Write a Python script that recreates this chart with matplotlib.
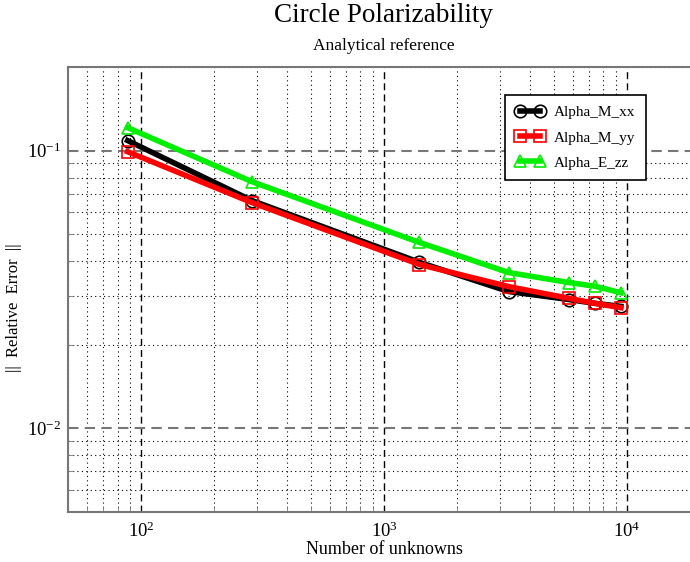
import numpy as np
import matplotlib
matplotlib.use("Agg")
import matplotlib.pyplot as plt
from matplotlib.ticker import LogLocator, NullFormatter

plt.rcParams['font.family'] = ['Liberation Serif', 'DejaVu Serif']
plt.rcParams['mathtext.fontset'] = 'stix'

# convergence data
unknowns = [88, 286, 1400, 3260, 5770, 7380, 9440]
alpha_m_xx = [0.1087, 0.0661, 0.0396, 0.0311, 0.0291, 0.0282, 0.0275]
alpha_m_yy = [0.0991, 0.0650, 0.0389, 0.0324, 0.0294, 0.0282, 0.0272]
alpha_e_zz = [0.121, 0.0773, 0.0467, 0.0364, 0.0335, 0.0325, 0.0308]

series = [
    ("Alpha_M_xx", alpha_m_xx, "black", "o"),
    ("Alpha_M_yy", alpha_m_yy, "red", "s"),
    ("Alpha_E_zz", alpha_e_zz, "#00ee00", "^"),
]

fig = plt.figure(figsize=(6.9, 5.62), dpi=100)
ax = fig.add_axes([68 / 690, 1 - 512 / 562, 632 / 690, 445 / 562])

for name, vals, col, mk in series:
    ax.plot(unknowns, vals, color=col, lw=4, marker=mk, markersize=9,
            markerfacecolor='none', markeredgecolor=col, markeredgewidth=1.2,
            label=name)

ax.set_xscale('log')
ax.set_yscale('log')
ax.set_xlim(50, 20000)
ax.set_ylim(0.005, 0.2)

ax.xaxis.set_minor_locator(LogLocator(base=10, subs=np.arange(2, 10)))
ax.yaxis.set_minor_locator(LogLocator(base=10, subs=np.arange(2, 10)))
ax.xaxis.set_minor_formatter(NullFormatter())
ax.yaxis.set_minor_formatter(NullFormatter())

# major grid: dashed, minor grid: dotted
ax.grid(True, axis='x', which='major', color='black', ls=(0, (5, 3)), lw=1)
ax.grid(True, axis='y', which='major', color='#777777', ls=(0, (5, 3)), lw=1.5)
ax.grid(True, which='minor', color='black', ls=(0, (1, 3)), lw=0.8)
ax.set_axisbelow(True)

for side in ['left', 'bottom', 'top']:
    ax.spines[side].set_color('#777777')
    ax.spines[side].set_linewidth(1.5)
ax.spines['right'].set_visible(False)
ax.tick_params(which='both', direction='in', color='#777777', labelsize=13.5)
ax.tick_params(which='major', length=0)
ax.tick_params(which='minor', length=4)
ax.tick_params(axis='x', which='major', pad=7)
ax.tick_params(axis='y', which='major', pad=5)

ax.set_xlabel("Number of unknowns", fontsize=13)
ax.xaxis.set_label_coords(0.5, -29 / 445)
ax.set_ylabel("||  Relative  Error  ||", fontsize=12)
ax.yaxis.set_label_coords(-46 / 632, 0.5 - 18 / 445)

fig.text(384 / 690, 1 - 16 / 562, "Circle Polarizability", ha='center', va='center', fontsize=19.5)
fig.text(384 / 690, 1 - 46 / 562, "Analytical reference", ha='center', va='center', fontsize=12.5)

leg = ax.legend(loc='upper left', numpoints=2, fancybox=False,
                framealpha=1, edgecolor='black', fontsize=11, handlelength=1.9,
                borderpad=0.7, labelspacing=0.75, handletextpad=0.6,
                borderaxespad=0)
leg.get_frame().set_linewidth(1.2)
leg.set_bbox_to_anchor(((505 - 68) / 632, 1 - 28 / 445), transform=ax.transAxes)

fig.savefig("out.png", dpi=100)
